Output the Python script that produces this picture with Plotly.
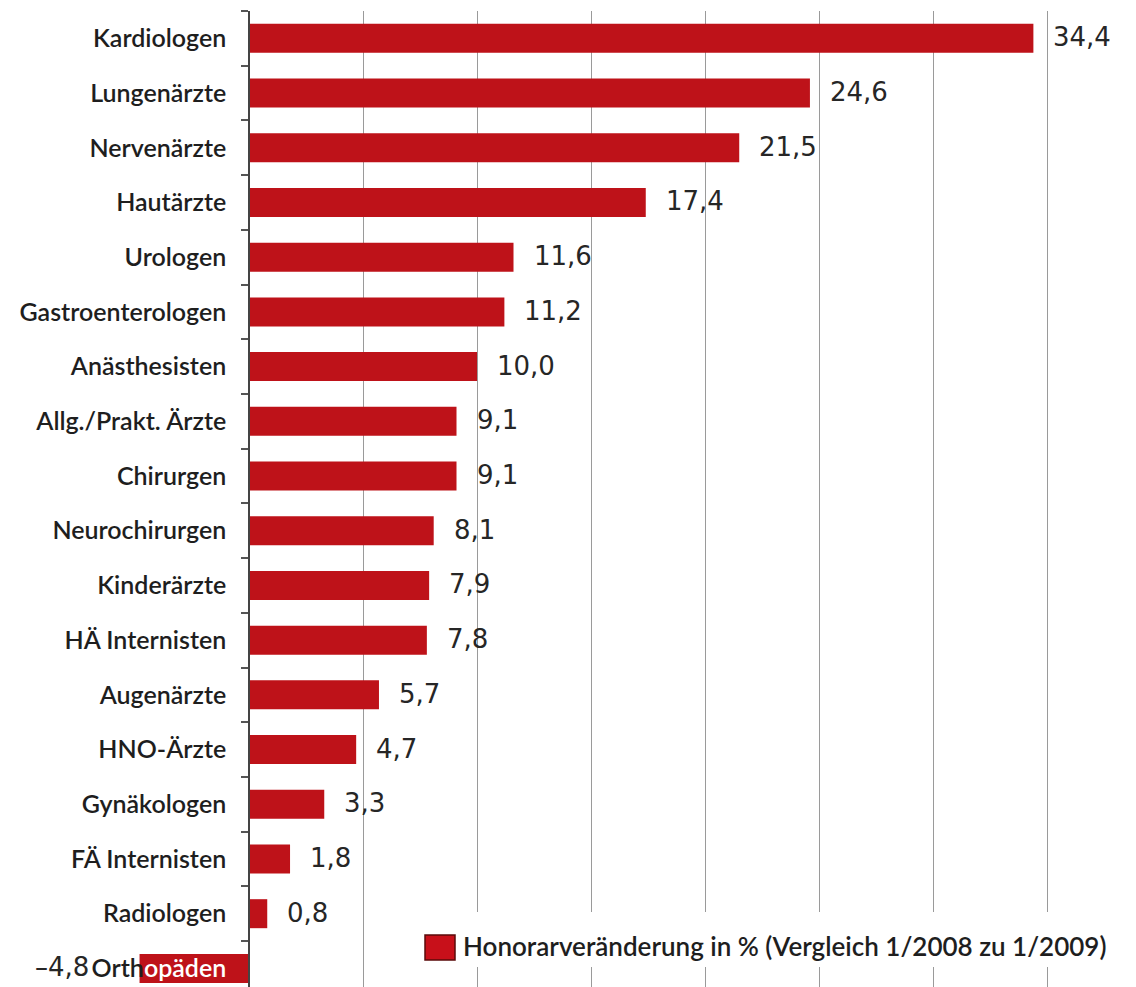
import plotly.graph_objects as go

categories = ["Kardiologen", "Lungenärzte", "Nervenärzte", "Hautärzte", "Urologen",
              "Gastroenterologen", "Anästhesisten", "Allg./Prakt. Ärzte", "Chirurgen",
              "Neurochirurgen", "Kinderärzte", "HÄ Internisten", "Augenärzte", "HNO-Ärzte",
              "Gynäkologen", "FÄ Internisten", "Radiologen", "Orthopäden"]
values = [34.4, 24.6, 21.5, 17.4, 11.6, 11.2, 10.0, 9.1, 9.1, 8.1, 7.9, 7.8, 5.7, 4.7,
          3.3, 1.8, 0.8, -4.8]
grid_ticks = [5, 10, 15, 20, 25, 30, 35]
legend_label = "Honorarveränderung in % (Vergleich 1/2008 zu 1/2009)"

BAR = "#BE1219"
LABEL_FONT = "Lato, DejaVu Sans Condensed, sans-serif"
VALUE_FONT = "DejaVu Sans, sans-serif"

W, H = 1136, 987
TOP = 11
x_range = [-10.92, 38.9]
y_range = [17.34, -0.5]

def fmt(v):
    s = f"{abs(v):.1f}".replace(".", ",")
    return ("–" + s) if v < 0 else s

# tick labels: the part of a label lying over a negative bar is white
ticktext = []
for c, v in zip(categories, values):
    if v < 0 and c == "Orthopäden":
        ticktext.append("Orth<span style='color:white'>opäden</span>")
    else:
        ticktext.append(c)

fig = go.Figure()
fig.add_trace(go.Bar(
    x=values, y=categories, orientation="h",
    marker=dict(color=BAR, line=dict(width=0)),
    showlegend=False, hoverinfo="x+y",
))

annotations = []
for c, v in zip(categories, values):
    if v >= 0:
        annotations.append(dict(x=v, y=c, xref="x", yref="y", text=fmt(v),
                                showarrow=False, xanchor="left", yanchor="middle",
                                xshift=18, yshift=1,
                                font=dict(family=VALUE_FONT, size=26, color="#262626")))
    else:
        annotations.append(dict(x=v, y=c, xref="x", yref="y", text=fmt(v),
                                showarrow=False, xanchor="right", yanchor="middle",
                                xshift=-49, yshift=1,
                                font=dict(family=VALUE_FONT, size=26, color="#262626")))

plot_h = H - TOP
def py(p):
    return (H - p) / plot_h

annotations.append(dict(x=461 / W, y=py(946), xref="paper", yref="paper",
                        text=legend_label, showarrow=False, xanchor="left", yanchor="middle",
                        font=dict(family=LABEL_FONT, size=26, color="#1e1e1e", weight=600)))

shapes = [
    dict(type="rect", xref="paper", yref="paper", x0=418 / W, x1=1122 / W,
         y0=py(967), y1=py(912), fillcolor="white", line=dict(width=0), layer="above"),
    dict(type="rect", xref="paper", yref="paper", x0=425 / W, x1=455 / W,
         y0=py(960), y1=py(935), fillcolor="#C8101A", line=dict(color="#5A0A0A", width=1.5),
         layer="above"),
]

zero_pos = (0 - x_range[0]) / (x_range[1] - x_range[0])

fig.update_layout(
    width=W, height=H,
    margin=dict(l=0, r=0, t=TOP, b=0),
    paper_bgcolor="white", plot_bgcolor="white",
    bargap=0.47,
    xaxis=dict(range=x_range, domain=[0, 1], tickvals=grid_ticks, showticklabels=False,
               showgrid=True, gridcolor="#9a9a9a", gridwidth=1, zeroline=False,
               showline=False, ticks=""),
    yaxis=dict(type="category", categoryorder="array", categoryarray=categories,
               range=y_range, anchor="free", position=zero_pos,
               tickvals=categories, ticktext=ticktext,
               showline=True, linecolor="#444444", linewidth=1.5,
               ticks="outside", tickson="boundaries", ticklen=7, tickcolor="#555555",
               tickwidth=1.5, ticklabelstandoff=17, showgrid=False, zeroline=False,
               tickfont=dict(family=LABEL_FONT, size=25, color="#1e1e1e", weight=600)),
    annotations=annotations,
    shapes=shapes,
)

fig.write_html("out.html")
